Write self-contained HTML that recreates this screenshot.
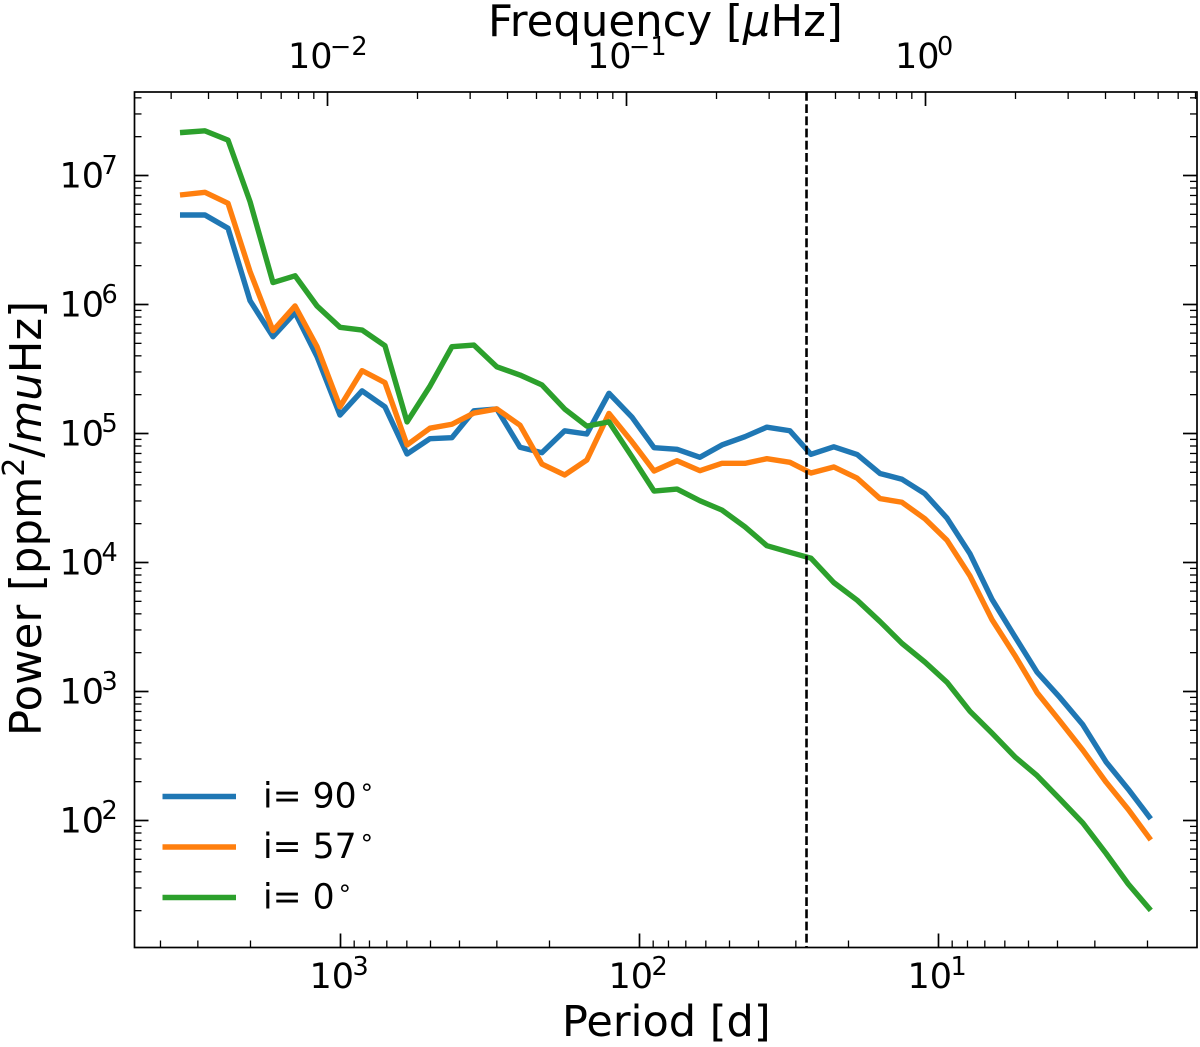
<!DOCTYPE html>
<html>
<head>
<meta charset="utf-8">
<title>Power spectrum</title>
<style>
html,body{margin:0;padding:0;background:#fff;width:1200px;height:1047px;overflow:hidden}
svg{display:block}
text{font-family:"DejaVu Sans","Liberation Sans",sans-serif;fill:#000}
</style>
</head>
<body>
<svg id="chart" xmlns="http://www.w3.org/2000/svg" width="1200" height="1047" viewBox="0 0 1200 1047">
  <text x="488" y="36" font-size="43.4">Frequency [<tspan font-style="italic">μ</tspan>Hz]</text>
  <text x="562" y="1036" font-size="43">Period [d]</text>
  <text transform="translate(41,736) rotate(-90)" x="0" y="0" font-size="43.4">Power [ppm<tspan font-size="30" dy="-17">2</tspan><tspan dy="17">/</tspan><tspan font-style="italic">mu</tspan>Hz]</text>
  <g id="series-layer"></g>
  <g id="ticks-layer"></g>
  <rect x="134.5" y="92" width="1062.5" height="855.5" fill="none" stroke="#000" stroke-width="1.7"/>
  <g>
    <line x1="162.5" x2="236" y1="796.5" y2="796.5" stroke="#1f77b4" stroke-width="5.4"/>
    <text x="263" y="807.5" font-size="34.6">i= 90</text>
    <text x="359" y="795" font-size="25">∘</text>
    <line x1="162.5" x2="236" y1="847" y2="847" stroke="#ff7f0e" stroke-width="5.4"/>
    <text x="263" y="858" font-size="34.6">i= 57</text>
    <text x="359" y="845.5" font-size="25">∘</text>
    <line x1="162.5" x2="236" y1="897.5" y2="897.5" stroke="#2ca02c" stroke-width="5.4"/>
    <text x="263" y="908.5" font-size="34.6">i= 0</text>
    <text x="337" y="896" font-size="25">∘</text>
  </g>
</svg>
<script>
const periods = [3442,2839,2378,2007,1682,1419,1198,1004,847,710,599,502,424,358,300,251,212,178,150,126.5,106,89.4,74.9,62.8,53,44.4,37.5,31.4,26.7,22.4,18.7,15.7,13.25,11.1,9.37,7.85,6.62,5.55,4.68,3.92,3.29,2.75,2.32,1.95];
const powerI90 = [4.94e6,4.94e6,3.90e6,1.07e6,5.63e5,8.64e5,3.94e5,1.39e5,2.14e5,1.61e5,6.94e4,9.12e4,9.28e4,1.50e5,1.55e5,7.82e4,7.10e4,1.05e5,9.91e4,2.05e5,1.34e5,7.76e4,7.54e4,6.54e4,8.15e4,9.45e4,1.12e5,1.05e5,6.89e4,7.89e4,6.87e4,4.90e4,4.42e4,3.41e4,2.21e4,1.17e4,5.17e3,2.66e3,1.41e3,8.95e2,5.52e2,2.84e2,1.75e2,1.03e2];
const powerI57 = [7.06e6,7.41e6,6.09e6,1.80e6,6.27e5,9.74e5,4.71e5,1.61e5,3.07e5,2.48e5,8.15e4,1.10e5,1.18e5,1.44e5,1.55e5,1.16e5,5.80e4,4.77e4,6.23e4,1.43e5,8.64e4,5.12e4,6.15e4,5.15e4,5.87e4,5.87e4,6.38e4,5.98e4,4.94e4,5.50e4,4.50e4,3.13e4,2.93e4,2.18e4,1.49e4,7.89e3,3.60e3,1.90e3,9.80e2,5.87e2,3.51e2,1.98e2,1.22e2,7.07e1];
const powerI0 = [2.15e7,2.22e7,1.88e7,6.27e6,1.48e6,1.67e6,9.74e5,6.66e5,6.34e5,4.79e5,1.23e5,2.33e5,4.71e5,4.85e5,3.29e5,2.84e5,2.38e5,1.55e5,1.14e5,1.23e5,6.61e4,3.58e4,3.71e4,3.01e4,2.55e4,1.89e4,1.35e4,1.20e4,1.08e4,6.99e3,5.10e3,3.49e3,2.36e3,1.69e3,1.18e3,7.03e2,4.75e2,3.11e2,2.23e2,1.46e2,9.56e1,5.55e1,3.22e1,2.01e1];
const periodTickExponents = [3,2,1];
const frequencyTickExponents = [-2,-1,0];
const powerTickExponents = [2,3,4,5,6,7];
const markerFrequency = 0.4;

const NS = 'http://www.w3.org/2000/svg';
const PLOT = {left:134.5,right:1197,top:92,bottom:947.5};
function xPeriod(p){return 340.5 + 299*(3 - Math.log10(p));}
function xFreq(f){return 327.5 + 299*(Math.log10(f) + 2);}
function yPower(v){return 175.5 + 129*(7 - Math.log10(v));}

const seriesLayer = document.getElementById('series-layer');
const ticksLayer = document.getElementById('ticks-layer');

function drawSeries(values,color,name){
  const path = document.createElementNS(NS,'path');
  let d = '';
  for(let i=0;i<values.length;i++){
    d += (i?'L':'M') + xPeriod(periods[i]).toFixed(2) + ' ' + yPower(values[i]).toFixed(2);
  }
  path.setAttribute('d',d);
  path.setAttribute('fill','none');
  path.setAttribute('stroke',color);
  path.setAttribute('stroke-width','5.4');
  path.setAttribute('stroke-linejoin','round');
  
  
  seriesLayer.appendChild(path);
}
drawSeries(powerI90,'#1f77b4','series-i90');
drawSeries(powerI57,'#ff7f0e','series-i57');
drawSeries(powerI0,'#2ca02c','series-i0');

const marker = document.createElementNS(NS,'line');
marker.setAttribute('x1',xFreq(markerFrequency));
marker.setAttribute('x2',xFreq(markerFrequency));
marker.setAttribute('y1',PLOT.top);
marker.setAttribute('y2',PLOT.bottom);
marker.setAttribute('stroke','#000');
marker.setAttribute('stroke-width','2.6');
marker.setAttribute('stroke-dasharray','8.8 3.4');


seriesLayer.appendChild(marker);

function tick(x1,y1,x2,y2,w,name){
  const l = document.createElementNS(NS,'line');
  l.setAttribute('x1',x1);
  l.setAttribute('y1',y1);
  l.setAttribute('x2',x2);
  l.setAttribute('y2',y2);
  l.setAttribute('stroke','#000');
  l.setAttribute('stroke-width',w);
  
  
  ticksLayer.appendChild(l);
}
function label(x,y,size,str,name){
  const t = document.createElementNS(NS,'text');
  t.setAttribute('x',x);
  t.setAttribute('y',y);
  t.setAttribute('font-size',size);
  t.textContent = str;
  
  
  ticksLayer.appendChild(t);
  return t;
}
function inRange(v,a,b){return v>=a && v<=b;}

/* bottom axis */
for(let e=0;e<=4;e++){
  for(let m=1;m<10;m++){
    const x = xPeriod(m*Math.pow(10,e));
    if(!inRange(x,PLOT.left,PLOT.right)) continue;
    if(m===1){tick(x,PLOT.bottom,x,PLOT.bottom-14,1.7,'period-major-tick');}
    else{tick(x,PLOT.bottom,x,PLOT.bottom-7,1.3,'period-minor-tick');}
  }
}
/* top axis */
for(let e=-3;e<=1;e++){
  for(let m=1;m<10;m++){
    const x = xFreq(m*Math.pow(10,e));
    if(!inRange(x,PLOT.left,PLOT.right)) continue;
    if(m===1){tick(x,PLOT.top,x,PLOT.top+14,1.7,'frequency-major-tick');}
    else{tick(x,PLOT.top,x,PLOT.top+7,1.3,'frequency-minor-tick');}
  }
}
/* left and right axes */
for(let e=1;e<=7;e++){
  for(let m=1;m<10;m++){
    const y = yPower(m*Math.pow(10,e));
    if(!inRange(y,PLOT.top,PLOT.bottom)) continue;
    const len = m===1?14:7;
    const w = m===1?1.7:1.3;
    tick(PLOT.left,y,PLOT.left+len,y,w,'power-tick-left');
    tick(PLOT.right,y,PLOT.right-len,y,w,'power-tick-right');
  }
}
/* tick labels */
periodTickExponents.forEach(function(e){
  const x = xPeriod(Math.pow(10,e));
  label(x-31,988,35,'10','period-tick-label');
  label(x+12,975,25.5,String(e),'period-tick-exponent');
});
frequencyTickExponents.forEach(function(e){
  const x = xFreq(Math.pow(10,e));
  const isNeg = e<0;
  const start = isNeg ? x-39.5 : x-30.5;
  label(start,68,35,'10','frequency-tick-label');
  label(start+42,55,25.5,String(e).replace('-','−'),'frequency-tick-exponent');
});
powerTickExponents.forEach(function(e){
  const y = yPower(Math.pow(10,e));
  label(59.5,y+12,35,'10','power-tick-label');
  label(101.5,y-1.5,25.5,String(e),'power-tick-exponent');
});
</script>
</body>
</html>
